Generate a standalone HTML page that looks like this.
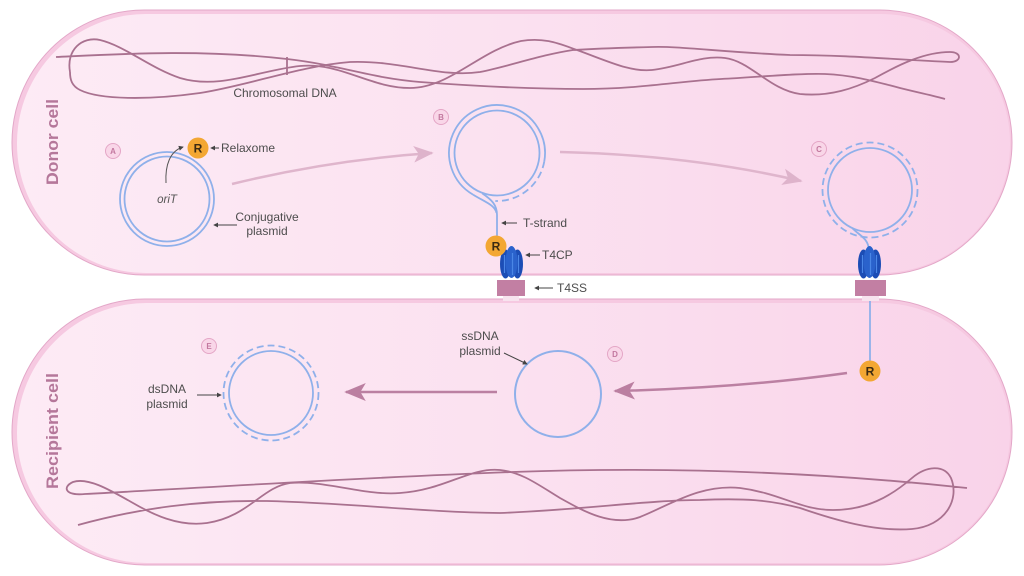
<!DOCTYPE html>
<html><head><meta charset="utf-8">
<style>
html,body{margin:0;padding:0;background:#fff;}
svg{display:block;}
text{font-family:"Liberation Sans",sans-serif;}
</style></head>
<body>
<svg width="1024" height="576" viewBox="0 0 1024 576" xmlns="http://www.w3.org/2000/svg">
<defs>
<linearGradient id="cg" x1="0" y1="0" x2="1" y2="0">
<stop offset="0" stop-color="#fdebf5"/>
<stop offset="0.5" stop-color="#fbe1f0"/>
<stop offset="1" stop-color="#f9d3e9"/>
</linearGradient>
<marker id="mL" viewBox="0 0 12 10" markerWidth="20" markerHeight="17" refX="11" refY="5" orient="auto" markerUnits="userSpaceOnUse">
<path d="M0,0 L12,5 L0,10 L3,5 Z" fill="#deb3cb"/>
</marker>
<marker id="mD" viewBox="0 0 12 10" markerWidth="22" markerHeight="18" refX="11" refY="5" orient="auto" markerUnits="userSpaceOnUse">
<path d="M0,0 L12,5 L0,10 L3,5 Z" fill="#bb7fa1"/>
</marker>
<marker id="mS" viewBox="0 0 6 6" markerWidth="5" markerHeight="5" refX="5" refY="3" orient="auto" markerUnits="userSpaceOnUse">
<path d="M0,0 L6,3 L0,6 Z" fill="#444"/>
</marker>
</defs>

<!-- cells -->
<rect x="12" y="10" width="1000" height="265" rx="132.5" fill="#f6c9e1" stroke="#e3a7c8" stroke-width="1"/>
<rect x="17" y="14" width="993" height="259" rx="129" fill="url(#cg)"/>
<rect x="12" y="299" width="1000" height="266" rx="133" fill="#f6c9e1" stroke="#e3a7c8" stroke-width="1"/>
<rect x="17" y="303" width="993" height="260" rx="130" fill="url(#cg)"/>

<!-- cell labels -->
<text transform="translate(58,142) rotate(-90)" text-anchor="middle" font-size="17" font-weight="bold" fill="#b5779a" textLength="86" lengthAdjust="spacingAndGlyphs">Donor cell</text>
<text transform="translate(58,431) rotate(-90)" text-anchor="middle" font-size="17" font-weight="bold" fill="#b5779a" textLength="116" lengthAdjust="spacingAndGlyphs">Recipient cell</text>

<!-- chromosomal DNA top -->
<g fill="none" stroke="#a9718f" stroke-width="1.8">
<path d="M56,57 C120,54 200,49 287,59 C340,65 370,78 420,82 C460,85 520,89 583,89 C640,89 680,81 721,79 C760,77 800,73 825,74 C850,75 870,80 900,88 C920,93 935,96 945,99"/>
<path d="M70,72 C66,50 82,36 100,40 C125,46 150,68 180,78 C220,90 260,70 300,66 C340,62 370,88 410,88 C450,88 480,50 521,41 C545,37 560,44 577,50 C610,62 630,72 652,70 C680,67 700,55 725,58 C750,61 770,90 800,94 C830,97 855,88 875,78 C900,64 925,52 950,52 C962,52 962,62 950,62 C900,60 850,55 790,55 C720,52 680,46 652,47 C610,48 590,49 573,50 C540,55 510,66 480,72 C440,78 400,60 350,62 C300,66 250,85 200,93 C150,100 100,100 80,90 C72,86 70,80 70,72"/>
<line x1="287" y1="57" x2="287" y2="75"/>
</g>
<text x="285" y="97" text-anchor="middle" font-size="12" fill="#4d4d4d">Chromosomal DNA</text>

<!-- chromosomal DNA bottom -->
<path fill="none" stroke="#a9718f" stroke-width="1.8" d="M78,525 C140,508 200,500 267,501 C350,503 420,512 500,513 C580,510 650,500 700,500 C745,498 770,500 800,508 C835,520 875,532 912,529 C945,526 960,500 951,478 C944,464 926,466 912,478 C890,497 866,510 833,510 C800,510 780,493 740,488 C700,484 670,505 640,517 C612,527 585,512 560,498 C540,486 522,472 500,470 C470,467 445,490 400,493 C365,496 325,480 290,483 C262,487 248,517 207,523 C178,527 152,514 133,503 C110,490 88,477 73,482 C62,487 65,496 85,494 C200,488 350,478 512,472 C650,467 800,470 967,488"/>

<!-- step label circles -->
<g font-size="8" font-weight="bold" fill="#c3789f" text-anchor="middle">
<circle cx="113" cy="151" r="7.5" fill="#f9d6e8" stroke="#e4a6c6"/><text x="113" y="154">A</text>
<circle cx="441" cy="117" r="7.5" fill="#f9d6e8" stroke="#e4a6c6"/><text x="441" y="120">B</text>
<circle cx="819" cy="149" r="7.5" fill="#f9d6e8" stroke="#e4a6c6"/><text x="819" y="152">C</text>
<circle cx="615" cy="354" r="7.5" fill="#f9d6e8" stroke="#e4a6c6"/><text x="615" y="357">D</text>
<circle cx="209" cy="346" r="7.5" fill="#f9d6e8" stroke="#e4a6c6"/><text x="209" y="349">E</text>
</g>

<!-- process arrows -->
<path d="M232,184 Q330,160 432,153" fill="none" stroke="#dfb5cc" stroke-width="2.5" marker-end="url(#mL)"/>
<path d="M560,152 Q690,155 801,181" fill="none" stroke="#dfb5cc" stroke-width="2.5" marker-end="url(#mL)"/>
<path d="M847,373 Q740,388 615,391" fill="none" stroke="#bb80a2" stroke-width="2.5" marker-end="url(#mD)"/>
<path d="M497,392 L346,392" fill="none" stroke="#bb80a2" stroke-width="2.5" marker-end="url(#mD)"/>

<!-- Plasmid A -->
<g fill="none" stroke="#8fb0ea" stroke-width="1.8">
<circle cx="167" cy="199" r="47"/>
<circle cx="167" cy="199" r="42.5"/>
</g>
<text x="167" y="203" text-anchor="middle" font-size="11.5" font-style="italic" fill="#555">oriT</text>
<path d="M166,183 C165,165 170,151 183,147" fill="none" stroke="#555" stroke-width="1" marker-end="url(#mS)"/>

<!-- Plasmid B -->
<g fill="none" stroke="#8fb0ea" stroke-width="1.8">
<circle cx="497" cy="153" r="42.5"/>
<path d="M473,194.6 A48,48 0 1 1 544.3,161.3"/>
<path d="M544.3,161.3 A48,48 0 0 1 495.3,201" stroke-dasharray="7 4"/>
<path d="M482.3,193.4 C492,200 497,205 497,215 L497,238"/>
<path d="M473,194.6 C485,202 495,205 496.5,213"/>
</g>

<!-- Plasmid C -->
<g fill="none" stroke="#8fb0ea" stroke-width="1.8">
<circle cx="870" cy="190" r="42"/>
<circle cx="870" cy="190" r="47.5" stroke-dasharray="7 4"/>
<path d="M852.3,228.1 C860,236 868,238 869,250"/>
<line x1="870" y1="296" x2="870" y2="362"/>
</g>

<!-- Plasmid D -->
<circle cx="558" cy="394" r="43" fill="none" stroke="#8fb0ea" stroke-width="2"/>

<!-- Plasmid E -->
<g fill="none" stroke="#8fb0ea" stroke-width="1.8">
<circle cx="271" cy="393" r="42"/>
<circle cx="271" cy="393" r="47.5" stroke-dasharray="7 4"/>
</g>

<!-- T4SS boxes -->
<rect x="503" y="296" width="16" height="5" fill="#f7e3ee"/>
<rect x="862" y="296" width="17" height="5" fill="#f7e3ee"/>
<rect x="497" y="280" width="28" height="16" fill="#c27fa3"/>
<rect x="855" y="280" width="31" height="16" fill="#c27fa3"/>

<!-- T4CP -->
<g transform="translate(511.5,263)">
<ellipse cx="-6" cy="1" rx="5.5" ry="14.5" fill="#1c4db5"/>
<ellipse cx="6" cy="1" rx="5.5" ry="14.5" fill="#1c4db5"/>
<ellipse cx="0" cy="-1" rx="6" ry="16" fill="#2a62cc"/>
<path d="M-7,-8 L-7,10 M1,-10 L1,12 M7,-8 L7,10" stroke="#4a86e6" stroke-width="1.2"/>
</g>
<g transform="translate(869.5,263)">
<ellipse cx="-6" cy="1" rx="5.5" ry="14.5" fill="#1c4db5"/>
<ellipse cx="6" cy="1" rx="5.5" ry="14.5" fill="#1c4db5"/>
<ellipse cx="0" cy="-1" rx="6" ry="16" fill="#2a62cc"/>
<path d="M-7,-8 L-7,10 M1,-10 L1,12 M7,-8 L7,10" stroke="#4a86e6" stroke-width="1.2"/>
</g>

<!-- Relaxome R -->
<g font-size="12" font-weight="bold" fill="#3b2a12" text-anchor="middle">
<circle cx="198" cy="148" r="10.5" fill="#f3a733"/><text x="198" y="152.5">R</text>
<circle cx="496" cy="246" r="10.5" fill="#f3a733"/><text x="496" y="250.5">R</text>
<circle cx="870" cy="371" r="10.5" fill="#f3a733"/><text x="870" y="375.5">R</text>
</g>

<!-- labels -->
<g stroke="#444" stroke-width="1" fill="none">
<line x1="219" y1="148" x2="211" y2="148" marker-end="url(#mS)"/>
<line x1="237" y1="225" x2="214" y2="225" marker-end="url(#mS)"/>
<line x1="517" y1="223" x2="502" y2="223" marker-end="url(#mS)"/>
<line x1="540" y1="255" x2="526" y2="255" marker-end="url(#mS)"/>
<line x1="553" y1="288" x2="535" y2="288" marker-end="url(#mS)"/>
<line x1="197" y1="395" x2="221" y2="395" marker-end="url(#mS)"/>
<line x1="504" y1="353" x2="527" y2="364" marker-end="url(#mS)"/>
</g>
<g font-size="12" fill="#4d4d4d">
<text x="221" y="152">Relaxome</text>
<text x="267" y="221" text-anchor="middle">Conjugative</text>
<text x="267" y="235" text-anchor="middle">plasmid</text>
<text x="523" y="227">T-strand</text>
<text x="542" y="259">T4CP</text>
<text x="557" y="292">T4SS</text>
<text x="167" y="393" text-anchor="middle">dsDNA</text>
<text x="167" y="408" text-anchor="middle">plasmid</text>
<text x="480" y="340" text-anchor="middle">ssDNA</text>
<text x="480" y="355" text-anchor="middle">plasmid</text>
</g>
</svg>
</body></html>
